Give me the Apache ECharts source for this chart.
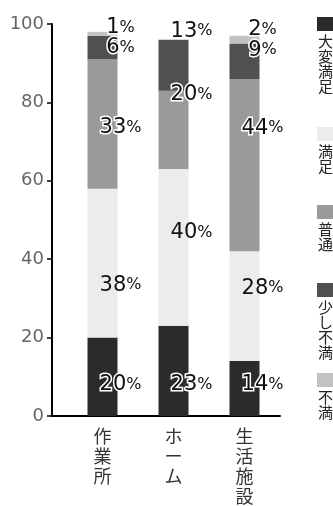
<!DOCTYPE html>
<html><head><meta charset="utf-8">
<script src="https://cdn.jsdelivr.net/npm/echarts@6/dist/echarts.min.js"></script>
<style>html,body{margin:0;padding:0;background:#fff}#c{width:333px;height:506px}</style>
</head><body><div id="c"></div>
<script>
const categories = ['作業所', 'ホーム', '生活施設'];
const seriesNames = ['大変満足', '満足', '普通', '少し不満', '不満'];
const veryGood = [20, 23, 14];
const good = [38, 40, 28];
const normal = [33, 20, 44];
const slightlyBad = [6, 13, 9];
const bad = [1, 0, 2];
const yTicks = [0, 20, 40, 60, 80, 100];

const values = [veryGood, good, normal, slightlyBad, bad];
const colors = ['#2b2b2b', '#ececec', '#9a9a9a', '#505050', '#c2c2c2'];
const outlined = [true, false, true, true, true];
const labelNudgeY = [[8, 14, -4], [22, -15, -18], [4, -35, -37], [0, -34, -11], [-6, 0, -10]];
const legendTops = [17, 127, 205, 283, 373];

const GRID = {left: 67, right: 53, top: 24, bottom: 90};
const Y_OFFSET = 15;

const chart = echarts.init(document.getElementById('c'), null, {renderer: 'canvas'});

const series = seriesNames.map((name, si) => {
  const border = outlined[si] ? {textBorderColor: '#fff', textBorderWidth: 3} : {};
  return {
    name, type: 'bar', stack: 'total', barWidth: 30,
    itemStyle: {color: colors[si]},
    data: values[si].map((v, ci) => ({
      value: v,
      label: {offset: [18, labelNudgeY[si][ci]]}
    })),
    label: {
      show: true, position: 'inside',
      formatter: p => p.value ? `{n|${p.value}}{p|%}` : '',
      color: '#111',
      ...border,
      rich: {
        n: {fontSize: 21, fontFamily: 'DejaVu Sans', color: '#111', ...border},
        p: {fontSize: 16, fontFamily: 'DejaVu Sans', color: '#111', ...border}
      }
    }
  };
});

const legendGraphics = [];
seriesNames.forEach((name, i) => {
  legendGraphics.push({
    type: 'rect', left: 317, top: legendTops[i],
    shape: {width: 22, height: 14},
    style: {fill: colors[i]}
  });
  legendGraphics.push({
    type: 'text', left: 318, top: legendTops[i] + 17,
    style: {
      text: name.split('').join('\n'),
      fontSize: 15, lineHeight: 15,
      fontFamily: 'Noto Sans CJK JP', fill: '#222'
    }
  });
});

const bottomY = 506 - GRID.bottom;
legendGraphics.push({
  type: 'line',
  shape: {x1: GRID.left - Y_OFFSET, y1: bottomY, x2: GRID.left, y2: bottomY},
  style: {stroke: '#000', lineWidth: 2}
});

chart.setOption({
  animation: false,
  backgroundColor: '#fff',
  grid: GRID,
  xAxis: {
    type: 'category', data: categories,
    axisLine: {lineStyle: {color: '#000', width: 2}},
    axisTick: {inside: true, length: 7, lineStyle: {color: '#000', width: 2},
      interval: (idx) => idx !== 0},
    axisLabel: {
      formatter: v => v.split('').join('\n'),
      fontSize: 18, lineHeight: 20, color: '#333', margin: 10,
      fontFamily: 'Noto Sans CJK JP'
    }
  },
  yAxis: {
    type: 'value', min: yTicks[0], max: yTicks[yTicks.length - 1], interval: 20,
    offset: Y_OFFSET,
    axisLine: {show: true, lineStyle: {color: '#000', width: 2}},
    axisTick: {show: true, length: 5, lineStyle: {color: '#000', width: 1.5}},
    axisLabel: {fontSize: 18, color: '#666', margin: 8, fontFamily: 'DejaVu Sans'},
    splitLine: {show: false}
  },
  graphic: legendGraphics,
  series
});
</script></body></html>
